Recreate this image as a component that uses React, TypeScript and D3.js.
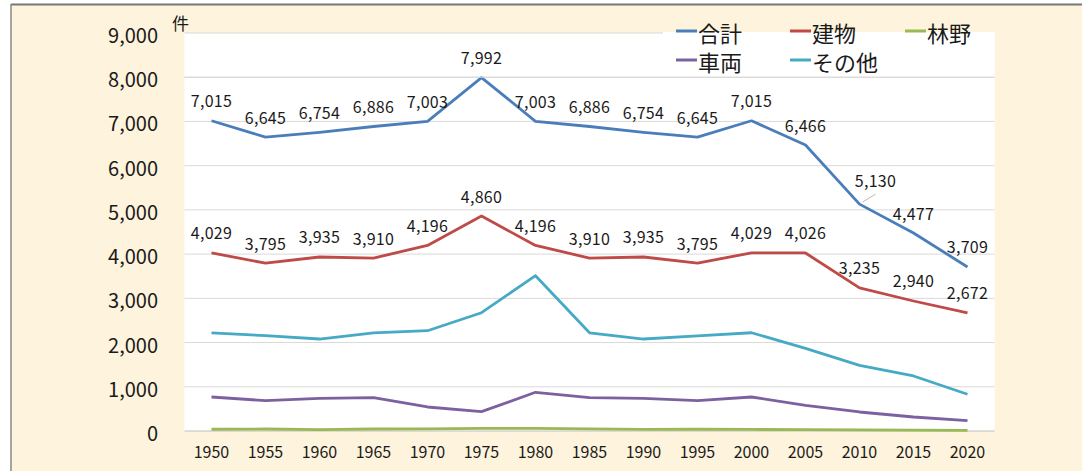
import React from "react";
import * as d3 from "d3";

const years = ["1950","1955","1960","1965","1970","1975","1980","1985","1990","1995","2000","2005","2010","2015","2020"];
const total = [7015,6645,6754,6886,7003,7992,7003,6886,6754,6645,7015,6466,5130,4477,3709];
const building = [4029,3795,3935,3910,4196,4860,4196,3910,3935,3795,4029,4026,3235,2940,2672];
const forest = [40,45,30,45,50,60,60,50,35,40,35,30,25,20,15];
const vehicle = [769,686,739,754,543,437,875,754,740,685,769,580,430,317,233];
const other = [2217,2155,2080,2220,2268,2675,3512,2220,2080,2150,2222,1870,1485,1244,830];
const yTicks = [0,1000,2000,3000,4000,5000,6000,7000,8000,9000];

const seriesNames = ["合計","建物","林野","車両","その他"];
const colors = ["#4a7ebb","#be4b48","#98b954","#7d60a0","#46aac5"];

const W = 1082, H = 471;
const plotL = 184.5, plotR = 994.5, plotT = 33, plotB = 431;
const FONT = "'Noto Sans CJK JP','Noto Sans',sans-serif";

export default function App() {
  const x = d3.scaleBand<string>().domain(years).range([plotL, plotR]);
  const y = d3.scaleLinear().domain([0, 9000]).range([plotB, plotT]);
  const cx = (yr: string) => (x(yr) as number) + x.bandwidth() / 2;
  const line = d3.line<number>().x((_, i) => cx(years[i])).y(v => y(v));
  const series = [total, building, forest, vehicle, other];
  const fmt = d3.format(",");
  const drawOrder = [2, 3, 4, 1, 0];

  const legendItems = [
    { i: 0, sx: 676, ty: 31 },
    { i: 1, sx: 790, ty: 31 },
    { i: 2, sx: 905, ty: 31 },
    { i: 3, sx: 676, ty: 60 },
    { i: 4, sx: 790, ty: 60 },
  ];

  return (
    <svg width={W} height={H} style={{ position: "absolute", left: 0, top: 0 }} fontFamily={FONT}>
      <rect x={0} y={0} width={W} height={H} fill="#ffffff" />
      <rect x={11} y={4} width={W} height={H} fill="#fef3dc" />
      <line x1={11} y1={4.5} x2={W} y2={4.5} stroke="#777" strokeWidth={2} />
      <line x1={11} y1={4} x2={11} y2={H} stroke="#888" strokeWidth={1.5} />
      <rect x={plotL} y={plotT} width={plotR - plotL} height={plotB - plotT} fill="#ffffff" />
      {yTicks.map(t => (
        <g key={t}>
          {t > 0 && (
            <line x1={plotL} x2={t === 9000 ? 663 : plotR} y1={y(t)} y2={y(t)} stroke="#d9d9d9" strokeWidth={1} />
          )}
          <text x={158} y={y(t) + 1.5} textAnchor="end" dominantBaseline="central" fontSize={20} fill="#1a1a1a">
            {fmt(t)}
          </text>
        </g>
      ))}
      <line x1={plotL} x2={plotR} y1={plotB} y2={plotB} stroke="#bfbfbf" strokeWidth={1} />
      {years.map(yr => (
        <text key={yr} x={cx(yr)} y={458} textAnchor="middle" fontSize={16} fill="#1a1a1a">{yr}</text>
      ))}
      <text x={172} y={30} fontSize={17} fill="#1a1a1a">件</text>
      {drawOrder.map(i => (
        <path key={i} d={line(series[i]) as string} fill="none" stroke={colors[i]} strokeWidth={2.8} strokeLinejoin="round" />
      ))}
      {[0, 1].map(si =>
        series[si].map((v, j) => {
          const special = si === 0 && years[j] === "2010";
          const px = cx(years[j]);
          const py = y(v);
          const lx = special ? px + 16 : px;
          const ly = special ? py - 17 : py - 13.5;
          return (
            <g key={si + "-" + j}>
              {special && <line x1={px + 3} y1={py - 2} x2={px + 16} y2={py - 10} stroke="#a6a6a6" strokeWidth={0.8} />}
              <text x={lx} y={ly} textAnchor="middle" fontSize={16} letterSpacing={0.3} fill="#1a1a1a">{fmt(v)}</text>
            </g>
          );
        })
      )}
      <rect x={663} y={plotT - 1} width={plotR - 663} height={44} fill="#ffffff" />
      <line x1={plotL} x2={plotR} y1={y(8000)} y2={y(8000)} stroke="#d9d9d9" strokeWidth={1} />
      {legendItems.map(it => (
        <g key={it.i}>
          <line x1={it.sx} x2={it.sx + 21} y1={it.ty} y2={it.ty} stroke={colors[it.i]} strokeWidth={3} />
          <text x={it.sx + 22} y={it.ty + 1} dominantBaseline="central" fontSize={22} fill="#1a1a1a">{seriesNames[it.i]}</text>
        </g>
      ))}
    </svg>
  );
}
